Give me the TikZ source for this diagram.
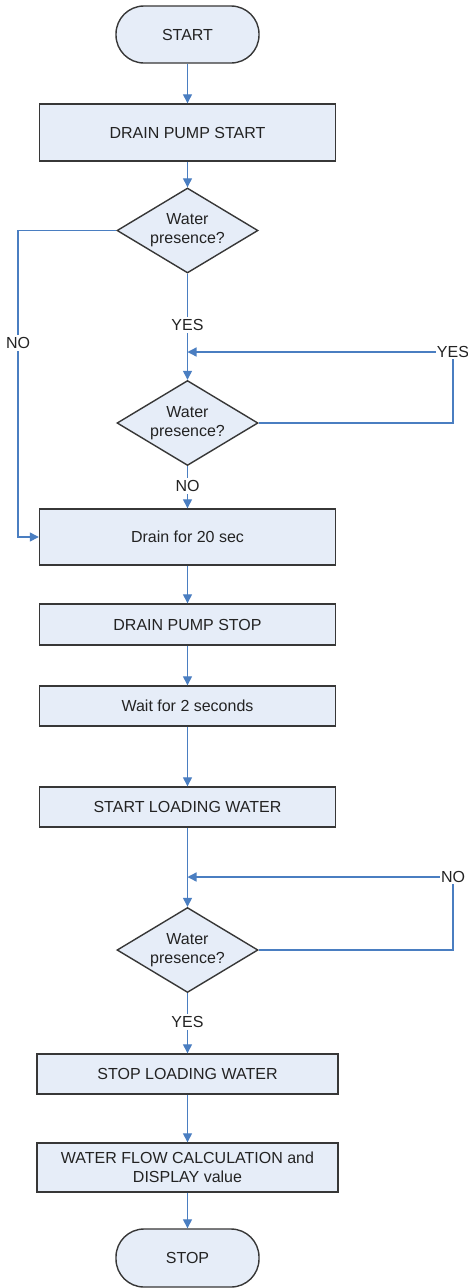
\documentclass[tikz,border=0pt]{standalone}
\usepackage{fontspec}
\setmainfont{Liberation Sans}
\usetikzlibrary{shapes.geometric,arrows.meta}
\definecolor{boxfill}{RGB}{230,237,248}
\definecolor{boxline}{RGB}{55,55,55}
\definecolor{flowblue}{RGB}{74,126,193}
\definecolor{txt}{RGB}{35,35,35}
\tikzset{
  every node/.style={font=\fontsize{16pt}{19pt}\selectfont, text=txt},
  shapebase/.style={draw=boxline, fill=boxfill, line width=1.4pt, align=center, inner sep=0pt},
  terminal/.style={shapebase, rectangle, rounded corners=28pt, minimum width=143pt, minimum height=57pt},
  process/.style={shapebase, rectangle, minimum width=296pt},
  decision/.style={shapebase, diamond, aspect=1.66, minimum width=141pt, minimum height=85pt},
  link/.style={draw=flowblue, line width=1.3pt},
  flow/.style={link, -{Triangle[length=9pt,width=9pt]}},
  lbl/.style={fill=white, inner sep=2pt},
}
\begin{document}
\begin{tikzpicture}[x=1pt,y=-1pt]
\useasboundingbox[fill=white] (0,0) rectangle (468,1288);

% steps of the cycle
\node[terminal] (start) at (187.5,34.5) {START};
\node[process, minimum height=57pt] (pumpon) at (187.5,132.5) {DRAIN PUMP START};
\node[decision] (chk1) at (187.5,230.5) {Water\\presence?};
\node[decision] (chk2) at (187.5,423) {Water\\presence?};
\node[process, minimum height=56pt] (drain) at (187.5,537) {Drain for 20 sec};
\node[process, minimum height=41pt] (pumpoff) at (187.5,624.5) {DRAIN PUMP STOP};
\node[process, minimum height=40pt] (wait) at (187.5,706) {Wait for 2 seconds};
\node[process, minimum height=40pt] (load) at (187.5,807) {START LOADING WATER};
\node[decision] (chk3) at (187.5,950) {Water\\presence?};
\node[process, minimum width=301pt, minimum height=40pt] (stopload) at (187.5,1074) {STOP LOADING WATER};
\node[process, minimum width=301pt, minimum height=49pt] (calc) at (187.5,1167.5) {WATER FLOW CALCULATION and\\DISPLAY value};
\node[terminal, minimum height=58pt] (stop) at (187.5,1258) {STOP};

% junctions and corners
\coordinate (m1) at (187.5,352);
\coordinate (m2) at (187.5,877);
\coordinate (l1) at (18,230.5);

% main line
\draw[flow] (start) -- (pumpon);
\draw[flow] (pumpon) -- (chk1);
\draw[flow] (chk1) -- (chk2);
\draw[flow] (chk2) -- (drain);
\draw[flow] (drain) -- (pumpoff);
\draw[flow] (pumpoff) -- (wait);
\draw[flow] (wait) -- (load);
\draw[flow] (load) -- (chk3);
\draw[flow] (chk3) -- (stopload);
\draw[flow] (stopload) -- (calc);
\draw[flow] (calc) -- (stop);

% first check: no water, go straight to draining
\draw[flow] (chk1.west) -- (l1) |- (drain.west);
\node[lbl] (no1) at (18,343) {NO};

% second check: water still present, check again
\node[lbl] (yes1) at (187.5,325) {YES};
\node[lbl, inner sep=1pt] (yes2) at (453,352) {YES};
\draw[link] (chk2.east) -| (yes2.south);
\draw[flow] (yes2.west) -- (m1);
\node[lbl] (no2) at (187.5,486) {NO};

% third check: wait until water arrives
\node[lbl, inner sep=1pt] (no3) at (453,877) {NO};
\draw[link] (chk3.east) -| (no3.south);
\draw[flow] (no3.west) -- (m2);
\node[lbl] (yes3) at (187.5,1022) {YES};
\end{tikzpicture}
\end{document}
